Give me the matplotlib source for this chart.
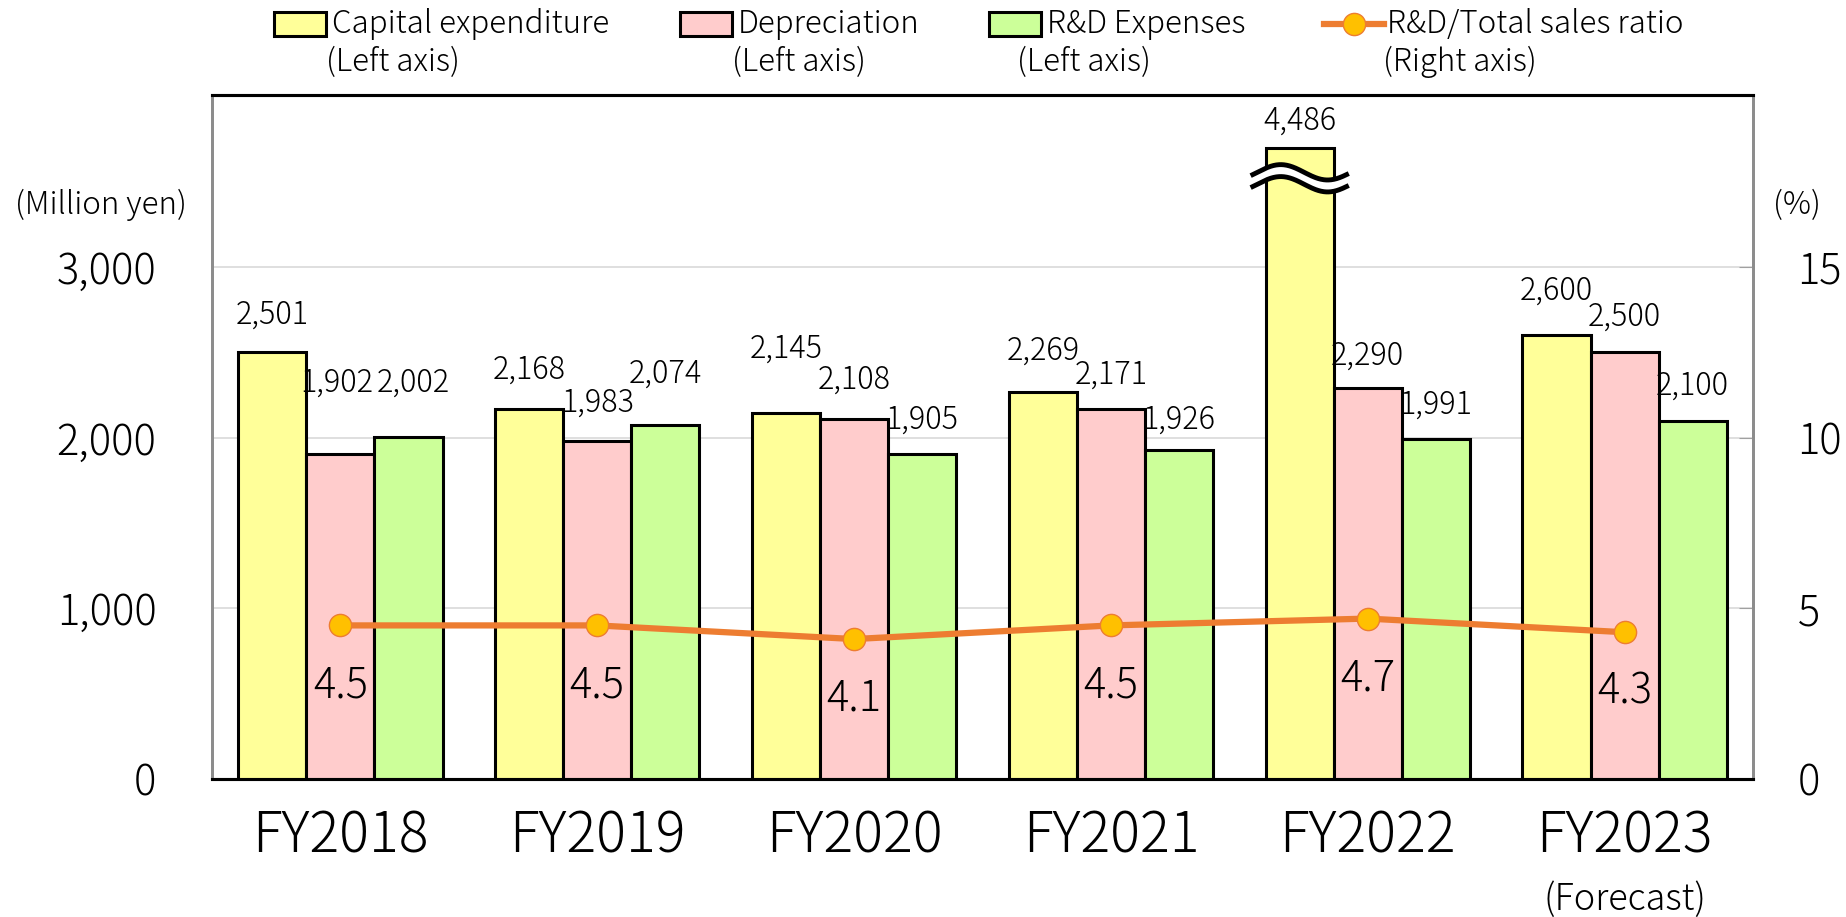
import numpy as np
import matplotlib
matplotlib.use("Agg")
import matplotlib.pyplot as plt
from matplotlib.patches import Rectangle
from matplotlib.lines import Line2D
from matplotlib.transforms import blended_transform_factory

plt.rcParams['font.family'] = ['Noto Sans CJK JP', 'DejaVu Sans']
plt.rcParams['font.weight'] = 'light'

# データ
years = ['FY2018', 'FY2019', 'FY2020', 'FY2021', 'FY2022', 'FY2023']
capex = [2501, 2168, 2145, 2269, 4486, 2600]
depreciation = [1902, 1983, 2108, 2171, 2290, 2500]
rd_expenses = [2002, 2074, 1905, 1926, 1991, 2100]
rd_ratio = [4.5, 4.5, 4.1, 4.5, 4.7, 4.3]

# 軸の切れ目（FY2022 の設備投資）
break_cap = 3700

# ラベルの位置調整（棒の上端からの距離, px）
off_capex = [37, 39, 64, 41, 27, 45]
off_dep = [72, 38, 40, 34, 33, 36]
off_rd = [55, 51, 34, 31, 35, 35]
dx_dep = [-4, 0, 0, 0, 0, 0]
dx_rd = [5, 0, 0, 0, 0, 0]

c_yellow = '#FFFF99'
c_pink = '#FFCCCC'
c_green = '#CCFF99'
c_orange = '#ED7D31'
c_marker = '#FFC000'

W, H = 1846, 917
fig = plt.figure(figsize=(W / 100, H / 100), dpi=100)
ax = fig.add_axes([212 / W, 1 - 779 / H, (1753 - 212) / W, (779 - 95) / H])
ax2 = ax.twinx()

x = np.arange(len(years))
bw = 0.265
capex_drawn = [min(v, break_cap) for v in capex]

ax.bar(x - bw, capex_drawn, bw, color=c_yellow, edgecolor='black', linewidth=2.2, zorder=3)
ax.bar(x, depreciation, bw, color=c_pink, edgecolor='black', linewidth=2.2, zorder=3)
ax.bar(x + bw, rd_expenses, bw, color=c_green, edgecolor='black', linewidth=2.2, zorder=3)

px = 72 / 100  # px -> pt
fs_val = 22
for i in range(len(years)):
    ax.annotate(f'{capex[i]:,}', (x[i] - bw, capex_drawn[i]), xytext=(0, off_capex[i] * px),
                textcoords='offset points', ha='center', va='center', fontsize=fs_val, zorder=5)
    ax.annotate(f'{depreciation[i]:,}', (x[i], depreciation[i]), xytext=(dx_dep[i] * px, off_dep[i] * px),
                textcoords='offset points', ha='center', va='center', fontsize=fs_val, zorder=5)
    ax.annotate(f'{rd_expenses[i]:,}', (x[i] + bw, rd_expenses[i]), xytext=(dx_rd[i] * px, off_rd[i] * px),
                textcoords='offset points', ha='center', va='center', fontsize=fs_val, zorder=5)

# 波線（切れ目）
for i in range(len(years)):
    if capex[i] > break_cap:
        xs = np.linspace(x[i] - 1.5 * bw - 0.05, x[i] - 0.5 * bw + 0.05, 200)
        t = (xs - xs[0]) / (xs[-1] - xs[0])
        ys = break_cap - 180 + 45 * np.sin(2 * np.pi * t - 0.3)
        ax.fill_between(xs, ys - 35, ys + 35, color='white', zorder=4, linewidth=0)
        ax.plot(xs, ys + 35, color='black', lw=3.5, zorder=4)
        ax.plot(xs, ys - 35, color='black', lw=3.5, zorder=4)

ax.set_xlim(-0.5, len(years) - 0.5)
ax.set_ylim(0, 4008)
ax.set_yticks([0, 1000, 2000, 3000])
ax.set_yticklabels([f'{v:,}' for v in [0, 1000, 2000, 3000]], fontsize=30)
ax.tick_params(axis='y', length=0, pad=40)
ax.grid(axis='y', color='#D9D9D9', linewidth=1.2, zorder=0)
ax.set_axisbelow(True)

ax.set_xticks(x)
ax.set_xticklabels(years, fontsize=40)
ax.tick_params(axis='x', length=0, pad=20)

# 比率（右軸）
ax2.plot(x, rd_ratio, color=c_orange, lw=4.5, marker='o', markersize=16,
         markerfacecolor=c_marker, markeredgecolor=c_orange, markeredgewidth=1, zorder=6)
for i in range(len(years)):
    ax2.annotate(f'{rd_ratio[i]}', (x[i], rd_ratio[i]), xytext=(0, -60 * px),
                 textcoords='offset points', ha='center', va='center', fontsize=30, zorder=7)
ax2.set_ylim(0, 20.04)
ax2.set_yticks([0, 5, 10, 15])
ax2.set_yticklabels(['0', '5', '10', '15'], fontsize=30)
ax2.tick_params(axis='y', direction='in', length=10, color='#A0A0A0', pad=32)

for a in (ax, ax2):
    a.spines['top'].set_color('black')
    a.spines['top'].set_linewidth(2.2)
    a.spines['bottom'].set_color('black')
    a.spines['bottom'].set_linewidth(2.2)
    a.spines['left'].set_color('#8C8C8C')
    a.spines['left'].set_linewidth(2)
    a.spines['right'].set_color('#8C8C8C')
    a.spines['right'].set_linewidth(2)
ax2.set_zorder(ax.get_zorder() + 1)
ax2.patch.set_visible(False)

# 予想注記
trans = blended_transform_factory(ax.transData, fig.transFigure)
ax.text(x[-1], 1 - 900 / H, '(Forecast)', transform=trans, ha='center', va='center', fontsize=26)

# 軸の単位
fig.text(101 / W, 1 - 205 / H, '(Million yen)', ha='center', va='center', fontsize=22.5)
fig.text(1773 / W, 1 - 205 / H, '(%)', ha='left', va='center', fontsize=22.5)

# 凡例（手書き）
legend_items = [
    (c_yellow, 'Capital expenditure', '(Left axis)', 274, 326),
    (c_pink, 'Depreciation', '(Left axis)', 680, 732),
    (c_green, 'R&D Expenses', '(Left axis)', 989, 1017),
]
fs_leg = 22.5
row1 = 1 - 24 / H
row2 = 1 - 62 / H
for col, t1, t2, xp, x2 in legend_items:
    fig.patches.append(Rectangle((xp / W, 1 - 36 / H), 52 / W, 24 / H, transform=fig.transFigure,
                                 facecolor=col, edgecolor='black', linewidth=2.2))
    fig.text((xp + 58) / W, row1, t1, ha='left', va='center', fontsize=fs_leg)
    fig.text(x2 / W, row2, t2, ha='left', va='center', fontsize=fs_leg)

fig.lines.append(Line2D([1324 / W, 1384 / W], [1 - 24 / H, 1 - 24 / H], transform=fig.transFigure,
                        color=c_orange, lw=4.5))
fig.lines.append(Line2D([1354 / W], [1 - 24 / H], transform=fig.transFigure, marker='o', markersize=16,
                        markerfacecolor=c_marker, markeredgecolor=c_orange, markeredgewidth=1))
fig.text(1387 / W, row1, 'R&D/Total sales ratio', ha='left', va='center', fontsize=fs_leg)
fig.text(1383 / W, row2, '(Right axis)', ha='left', va='center', fontsize=fs_leg)

fig.savefig('out.png', dpi=100)
